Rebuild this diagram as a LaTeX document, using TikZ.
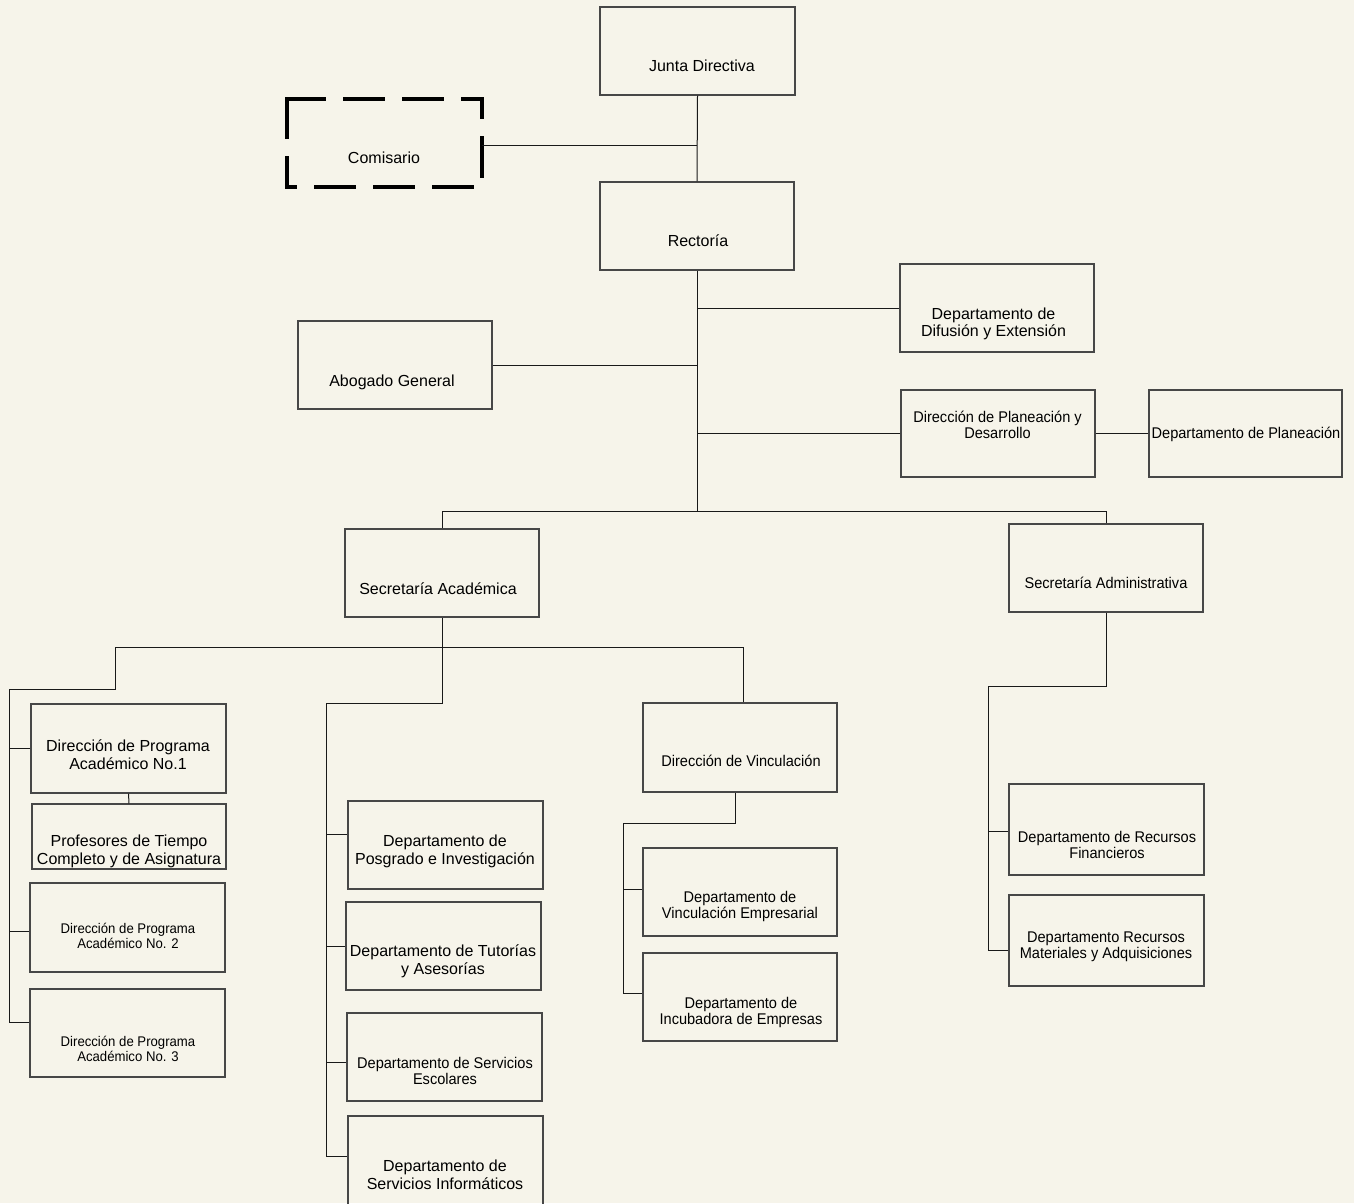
\documentclass[tikz,border=0pt]{standalone}
\usepackage{fontspec}
\setmainfont{Liberation Sans}
\newfontfamily\narfont[FakeStretch=0.94]{Liberation Sans}
\definecolor{bgc}{HTML}{F6F4EA}
\tikzset{
  box/.style={draw=black!72, line width=1.05pt, rectangle, inner sep=0pt},
  wire/.style={draw=black!90, line width=1pt},
  tA/.style={font=\fontsize{16}{18}\selectfont, align=center, inner sep=0pt},
  tAa/.style={font=\fontsize{16}{17}\selectfont, align=center, inner sep=0pt},
  tB/.style={font=\narfont\fontsize{15.5}{16}\selectfont, align=center, inner sep=0pt},
  tC/.style={font=\narfont\fontsize{14}{15}\selectfont, align=center, inner sep=0pt},
  oneA/.style={text height=11.5pt, text depth=0pt},
  oneB/.style={text height=11pt, text depth=0pt}
}
\begin{document}
\begin{tikzpicture}[x=1pt,y=-1pt]
\fill[bgc] (0,0) rectangle (1354,1203);
\useasboundingbox (0,0) rectangle (1354,1203);

% boxes
\node[box, minimum width=195pt, minimum height=88pt] (jd) at (697.5,51) {};
\node[inner sep=0pt, minimum width=195pt, minimum height=88pt] (com) at (384.5,143) {};
\node[box, minimum width=194pt, minimum height=88pt] (rec) at (697,226) {};
\node[box, minimum width=194pt, minimum height=88pt] (dif) at (997,308) {};
\node[box, minimum width=194pt, minimum height=88pt] (abo) at (395,365) {};
\node[box, minimum width=194pt, minimum height=87pt] (dpd) at (998,433.5) {};
\node[box, minimum width=193pt, minimum height=87pt] (dpl) at (1245.5,433.5) {};
\node[box, minimum width=194pt, minimum height=88pt] (sac) at (442,573) {};
\node[box, minimum width=194pt, minimum height=88pt] (sad) at (1106,568) {};
\node[box, minimum width=195pt, minimum height=89pt] (dp1) at (128.5,748.5) {};
\node[box, minimum width=194pt, minimum height=65pt] (prof) at (129,836.5) {};
\node[box, minimum width=195pt, minimum height=89pt] (dp2) at (127.5,927.5) {};
\node[box, minimum width=195pt, minimum height=88pt] (dp3) at (127.5,1033) {};
\node[box, minimum width=195pt, minimum height=88pt] (pos) at (445.5,845) {};
\node[box, minimum width=195pt, minimum height=88pt] (tut) at (443.5,946) {};
\node[box, minimum width=195pt, minimum height=88pt] (ses) at (444.5,1057) {};
\node[box, minimum width=195pt, minimum height=90pt] (sin) at (445.5,1161) {};
\node[box, minimum width=194pt, minimum height=89pt] (dvi) at (740,747.5) {};
\node[box, minimum width=194pt, minimum height=88pt] (dve) at (740,892) {};
\node[box, minimum width=194pt, minimum height=88pt] (dinc) at (740,997) {};
\node[box, minimum width=195pt, minimum height=91pt] (drf) at (1106.5,829.5) {};
\node[box, minimum width=195pt, minimum height=91pt] (drm) at (1106.5,940.5) {};

% dashed Comisario frame
\draw[line width=4.5pt, line cap=rect, line join=miter, dash pattern=on 37.5pt off 21.5pt]
  (com.north west) -- (com.south west) -- (com.south east) -- (com.north east) -- cycle;

% texts
\node[tA, oneA] (jdT) at (702,66) {Junta Directiva};
\node[tA, oneA] (comT) at (384,157.5) {Comisario};
\node[tA, oneA] (recT) at (698,241) {Rectoría};
\node[tAa] (difT) at (993.5,323.5) {Departamento de\\Difusión y Extensión};
\node[tA, oneA] (aboT) at (392,381) {Abogado General};
\node[tB] (dpdT) at (997.5,425) {Dirección de Planeación y\\Desarrollo};
\node[tB, oneB] (dplT) at (1246,433) {Departamento de Planeación};
\node[tA, oneA] (sacT) at (438,588.5) {Secretaría Académica};
\node[tB, oneB] (sadT) at (1106,582.5) {Secretaría Administrativa};
\node[tA] (dp1T) at (128,755) {Dirección de Programa\\Académico No.1};
\node[tA] (profT) at (129,851) {Profesores de Tiempo\\Completo y de Asignatura};
\node[tC] (dp2T) at (128,935.5) {Dirección de Programa\\Académico No. 2};
\node[tC] (dp3T) at (128,1048.5) {Dirección de Programa\\Académico No. 3};
\node[tA] (posT) at (445,851) {Departamento de\\Posgrado e Investigación};
\node[tA] (tutT) at (443,961) {Departamento de Tutorías\\y Asesorías};
\node[tB] (sesT) at (445,1071) {Departamento de Servicios\\Escolares};
\node[tA] (sinT) at (445,1175) {Departamento de\\Servicios Informáticos};
\node[tB, oneB] (dviT) at (741,761) {Dirección de Vinculación};
\node[tB] (dveT) at (740,906) {Departamento de\\Vinculación Empresarial};
\node[tB] (dincT) at (741,1012) {Departamento de\\Incubadora de Empresas};
\node[tB] (drfT) at (1107,845) {Departamento de Recursos\\Financieros};
\node[tB] (drmT) at (1106,947) {Departamento Recursos\\Materiales y Adquisiciones};

% junction coordinates
\coordinate (j1) at (697,145);
\coordinate (bus) at (697,511);
\coordinate (h1) at (115,647);
\coordinate (h2) at (743,647);
\coordinate (L0) at (9,689);
\coordinate (L1) at (9,748);
\coordinate (L2) at (9,931);
\coordinate (L3) at (9,1022);
\coordinate (m0) at (326,703);
\coordinate (m1) at (326,834);
\coordinate (m2) at (326,946);
\coordinate (m3) at (326,1062);
\coordinate (m4) at (326,1156);
\coordinate (v0) at (735,823);
\coordinate (v1) at (623,823);
\coordinate (v2) at (623,889);
\coordinate (v3) at (623,993);
\coordinate (a0) at (988,686);
\coordinate (a1) at (988,831);
\coordinate (a2) at (988,950);

% connectors
\draw[wire] (jd.south) -- (rec.north);
\draw[wire] (com.east |- j1) -- (j1);
\draw[wire] (rec.south) -- (bus);
\draw[wire] (sac.north) |- (bus) -| (sad.north);
\draw[wire] (dif.west) -- (dif.west -| rec.south);
\draw[wire] (abo.east) -- (abo.east -| rec.south);
\draw[wire] (dpd.west) -- (dpd.west -| rec.south);
\draw[wire] (dpd.east) -- (dpl.west);

\draw[wire] (sac.south) |- (m0) -- (m4);
\draw[wire] (h1) -- (h2) -- (h2 |- dvi.north);
\draw[wire] (h1) |- (L0) -- (L3);
\draw[wire] (L1) -- (L1 -| dp1.west);
\draw[wire] (L2) -- (L2 -| dp2.west);
\draw[wire] (L3) -- (L3 -| dp3.west);
\draw[wire] (dp1.south) -- (prof.north);
\draw[wire] (m1) -- (m1 -| pos.west);
\draw[wire] (m2) -- (m2 -| tut.west);
\draw[wire] (m3) -- (m3 -| ses.west);
\draw[wire] (m4) -- (m4 -| sin.west);

\draw[wire] (dvi.south -| v0) -- (v0) -- (v1) -- (v3);
\draw[wire] (v2) -- (v2 -| dve.west);
\draw[wire] (v3) -- (v3 -| dinc.west);

\draw[wire] (sad.south) |- (a0) -- (a2);
\draw[wire] (a1) -- (a1 -| drf.west);
\draw[wire] (a2) -- (a2 -| drm.west);
\end{tikzpicture}
\end{document}
